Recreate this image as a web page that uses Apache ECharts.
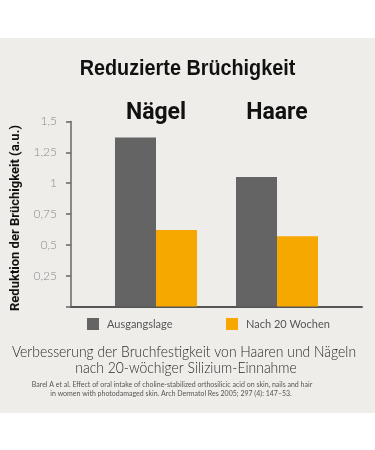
<!DOCTYPE html>
<html>
<head>
<meta charset="utf-8">
<script src="https://cdn.jsdelivr.net/npm/echarts@6/dist/echarts.min.js"></script>
<style>
html,body{margin:0;padding:0;background:#ffffff;}
#chart{width:375px;height:450px;}
</style>
</head>
<body>
<div id="chart"></div>
<script>
var categories = ['Nägel', 'Haare'];
var seriesNames = ['Ausgangslage', 'Nach 20 Wochen'];
var baselineValues = [1.37, 1.05];
var week20Values = [0.62, 0.57];
var yTickValues = [0, 0.25, 0.5, 0.75, 1, 1.25, 1.5];
var yTickLabels = ['', '0,25', '0,5', '0,75', '1', '1,25', '1,5'];
var chartTitle = 'Reduzierte Brüchigkeit';
var yAxisName = 'Reduktion der Brüchigkeit (a.u.)';
var subtitleLines = ['Verbesserung der Bruchfestigkeit von Haaren und Nägeln', 'nach 20-wöchiger Silizium-Einnahme'];
var citationLines = ['Barel A et al. Effect of oral intake of choline-stabilized orthosilicic acid on skin, nails and hair', 'in women with photodamaged skin. Arch Dermatol Res 2005; 297 (4): 147–53.'];

var BOLD = '"Liberation Sans", Arial, sans-serif';
var CAT = 'Roboto, "Liberation Sans", sans-serif';
var LIGHT = 'Lato, "Open Sans", sans-serif';
var GRAY = '#646464', ORANGE = '#f7a800';

var chart = echarts.init(document.getElementById('chart'), null, {renderer: 'canvas'});

function tickLabel(v) {
  for (var i = 0; i < yTickValues.length; i++) {
    if (Math.abs(yTickValues[i] - v) < 1e-6) return yTickLabels[i];
  }
  return '';
}

var option = {
  backgroundColor: '#ffffff',
  animation: false,
  graphic: [
    {type: 'rect', z: -10, silent: true, shape: {x: 0, y: 38, width: 375, height: 375}, style: {fill: '#efede9'}},
    {type: 'text', x: 187.5, y: 68.5, scaleX: 0.9, style: {text: chartTitle, font: 'bold 22px ' + BOLD, fill: '#111111', textAlign: 'center', textVerticalAlign: 'middle'}},
    {type: 'text', x: 184, y: 352, scaleX: 0.87, style: {text: subtitleLines[0], font: '300 16px ' + LIGHT, fill: '#2a2a2a', textAlign: 'center', textVerticalAlign: 'middle'}},
    {type: 'text', x: 186, y: 368, scaleX: 0.87, style: {text: subtitleLines[1], font: '300 16px ' + LIGHT, fill: '#2a2a2a', textAlign: 'center', textVerticalAlign: 'middle'}},
    {type: 'text', x: 172, y: 384.5, scaleX: 0.875, style: {text: citationLines[0], font: '8px ' + LIGHT, fill: '#555555', textAlign: 'center', textVerticalAlign: 'middle'}},
    {type: 'text', x: 171, y: 393, scaleX: 0.875, style: {text: citationLines[1], font: '8px ' + LIGHT, fill: '#555555', textAlign: 'center', textVerticalAlign: 'middle'}}
  ],
  legend: [
    {left: 87, top: 318, padding: 0, itemWidth: 12, itemHeight: 12, itemGap: 0, icon: 'rect', data: [seriesNames[0]],
      textStyle: {fontFamily: LIGHT, fontSize: 11, color: '#555555', padding: [0, 0, 0, 3]}},
    {left: 226, top: 318, padding: 0, itemWidth: 12, itemHeight: 12, itemGap: 0, icon: 'rect', data: [seriesNames[1]],
      textStyle: {fontFamily: LIGHT, fontSize: 11, color: '#555555', padding: [0, 0, 0, 3]}}
  ],
  grid: [
    {left: 71, top: 121.5, width: 291, height: 185, containLabel: false},
    {left: 95.5, top: 121.5, width: 242, height: 185, containLabel: false}
  ],
  xAxis: [
    {gridIndex: 0, type: 'category', data: categories, axisLabel: {show: false}, axisTick: {show: false},
      axisLine: {lineStyle: {color: '#555555', width: 2}}},
    {gridIndex: 1, type: 'category', data: categories, position: 'top',
      axisLine: {show: false}, axisTick: {show: false},
      axisLabel: {margin: -3, fontFamily: CAT, fontWeight: 'bold', fontSize: 23, color: '#111111'}}
  ],
  yAxis: [
    {gridIndex: 0, type: 'value', min: 0, max: 1.5, interval: 0.25,
      name: yAxisName, nameLocation: 'middle', nameGap: 46,
      nameTextStyle: {fontFamily: CAT, fontWeight: 'bold', fontSize: 13, color: '#111111', padding: [0, 8, 0, 0]},
      axisLine: {show: true, lineStyle: {color: '#666666', width: 1.5}},
      axisTick: {show: true, inside: false, length: 5, lineStyle: {color: '#666666', width: 1.5}},
      splitLine: {show: false},
      axisLabel: {margin: 14, fontFamily: LIGHT, fontWeight: 300, fontSize: 12, color: '#8a8a8a', formatter: tickLabel}},
    {gridIndex: 1, type: 'value', min: 0, max: 1.5, interval: 0.25, show: false, splitLine: {show: false}}
  ],
  series: [
    {name: seriesNames[0], type: 'bar', xAxisIndex: 1, yAxisIndex: 1, data: baselineValues,
      barWidth: 41, barGap: '0%', itemStyle: {color: GRAY}},
    {name: seriesNames[1], type: 'bar', xAxisIndex: 1, yAxisIndex: 1, data: week20Values,
      barWidth: 41, barGap: '0%', itemStyle: {color: ORANGE}}
  ]
};
chart.setOption(option);
</script>
</body>
</html>
